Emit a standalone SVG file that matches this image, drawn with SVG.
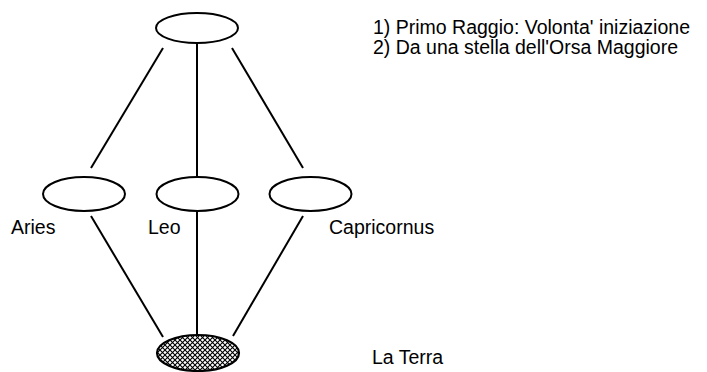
<svg xmlns="http://www.w3.org/2000/svg" width="707" height="372" viewBox="0 0 707 372">
<style>
.n{fill:#fff;stroke:#000;stroke-width:2}
.h{fill:url(#hatch);stroke:#000;stroke-width:2.2}
.c line{stroke:#000;stroke-width:2}
text{font-family:"Liberation Sans",Arial,sans-serif;font-size:19.5px;fill:#000}
</style>
<defs>
<pattern id="hatch" width="5" height="5" patternUnits="userSpaceOnUse">
<rect width="5" height="5" fill="#fff"/>
<path d="M0,0 L5,5 M5,0 L0,5" stroke="#000" stroke-width="1.1"/>
</pattern>
</defs>
<g class="c" id="connectors">
<line x1="163" y1="48" x2="91" y2="168"/>
<line x1="197" y1="43" x2="197" y2="177"/>
<line x1="232" y1="48" x2="303" y2="168"/>
<line x1="91" y1="216" x2="163" y2="337"/>
<line x1="197" y1="211" x2="197" y2="335"/>
<line x1="303" y1="216" x2="233" y2="336"/>
</g>
<g id="top"><ellipse class="n" cx="197" cy="28" rx="41" ry="15"/></g>
<g id="aries"><ellipse class="n" cx="84" cy="194" rx="41" ry="17"/><text x="11" y="234">Aries</text></g>
<g id="leo"><ellipse class="n" cx="197.5" cy="194" rx="41" ry="17"/><text x="148" y="234">Leo</text></g>
<g id="capricornus"><ellipse class="n" cx="310.5" cy="194" rx="41" ry="17"/><text x="329" y="234">Capricornus</text></g>
<g id="terra"><ellipse class="h" cx="198" cy="353" rx="41" ry="18"/><text x="372" y="364">La Terra</text></g>
<g id="legend">
<text x="373" y="34">1) Primo Raggio: Volonta' iniziazione</text>
<text x="373" y="54">2) Da una stella dell'Orsa Maggiore</text>
</g>
</svg>
